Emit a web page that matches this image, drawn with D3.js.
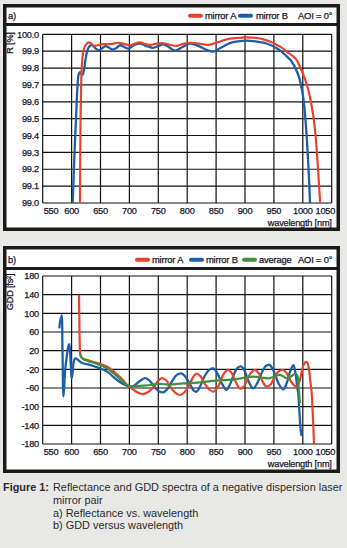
<!DOCTYPE html>
<html><head><meta charset="utf-8">
<script src="https://cdn.jsdelivr.net/npm/d3@7/dist/d3.min.js"></script>
<style>
html,body{margin:0;padding:0;background:#e8e9e7;}
svg{display:block;}
.tick{font-family:"Liberation Sans",Arial,sans-serif;font-size:9.2px;fill:#14142a;stroke:#14142a;stroke-width:0.25px;letter-spacing:-0.2px;}
.leg{font-family:"Liberation Sans",Arial,sans-serif;font-size:9.4px;fill:#14142a;stroke:#14142a;stroke-width:0.25px;letter-spacing:-0.2px;}
.cap{font-family:"Liberation Sans",Arial,sans-serif;font-size:10.9px;fill:#2a2a2a;}
</style></head><body>
<svg id="c" width="347" height="548"></svg>
<script>
// ---------- data ----------
const xTicks = [550,600,650,700,750,800,850,900,950,1000,1050];
const rTicks = [99.0,99.1,99.2,99.3,99.4,99.5,99.6,99.7,99.8,99.9,100.0];
const gddTicks = [-180,-140,-100,-60,-20,20,60,100,140,180];

const rA_wl = [614.5,615.5,616.5,617.5,619,621,624,629,634,638,645,655,668,681,692,701,710,718,727,736,747,759,770,782,793,805,820,837,852,868,885,903,920,932,945,955,964,972,981,989,996,1002,1007,1011,1015,1018,1022,1026,1030];
const rA_val = [99.0,99.5,99.7,99.8,99.87,99.91,99.935,99.952,99.945,99.932,99.935,99.942,99.942,99.95,99.942,99.935,99.945,99.952,99.943,99.937,99.945,99.947,99.938,99.931,99.943,99.95,99.945,99.937,99.952,99.97,99.978,99.982,99.978,99.97,99.955,99.937,99.92,99.897,99.875,99.85,99.8,99.75,99.7,99.65,99.58,99.52,99.4,99.22,99.0];

const rB_wl = [601.9,604.5,607.6,610,612,614,617,619,622,625,628,631,636,642,648,654,659,665,672,678,684,691,698,708,718,730,741,750,759,768,779,792,805,820,832,845,858,874,888,903,918,932,945,955,962,972,978,984,989,994,998,1001,1004,1007,1010,1012.5];
const rB_val = [99.0,99.25,99.5,99.68,99.76,99.775,99.765,99.76,99.8,99.87,99.91,99.93,99.935,99.915,99.905,99.92,99.93,99.92,99.91,99.92,99.935,99.925,99.915,99.935,99.945,99.93,99.92,99.93,99.94,99.925,99.903,99.925,99.945,99.93,99.91,99.897,99.92,99.948,99.958,99.962,99.958,99.95,99.935,99.917,99.9,99.87,99.85,99.82,99.785,99.74,99.68,99.62,99.52,99.38,99.2,99.0];

const gA_wl = [612.8,613.5,614.2,615,617,620,630,643,655,665,675,685,695,706,715,724,733,741,748,756,764,772,780,788,796,803,810,816,823,830,838,845,852,858,864,871,877,884,891,898,904,910,917,924,930,937,944,950,957,966,973,980,989,995,1000,1004,1007,1010,1013,1015.4,1017,1018.5,1019.5];
const gA_val = [140,80,30,12,6,3,-1,-6,-11,-17,-27,-38,-52,-63,-70,-73,-68,-59,-47,-39,-44,-60,-71,-75,-68,-55,-37,-29,-35,-50,-63,-68,-60,-45,-28,-21,-28,-47,-61,-57,-42,-28,-21,-29,-45,-57,-53,-40,-26,-21,-30,-47,-57,-42,-15,-5,-4,-15,-45,-71,-110,-150,-185];

const gB_wl = [578.7,580.5,582.9,584,585,585.7,587,589,591.5,594,596,597.5,599,600,601.5,603.5,606,609,613,620,630,640,655,665,672,680,690,700,707,717,727,735,743,751,759,767,774,782,790,797,805,811,816,823,830,838,845,852,860,868,875,881,887,894,900,907,914,921,928,936,943,950,958,966,972,978,983.6,987,990,992,994,996.4,998];
const gB_val = [68,85,96,40,-40,-78,-60,-20,7,28,34,15,-20,-39,-30,-5,3.6,2,-2,-7,-10,-14,-21,-28,-36,-44,-52,-57,-56,-46,-39,-44,-57,-67,-69,-60,-45,-32,-28.6,-36,-52,-65,-68,-55,-35,-21,-18,-28,-50,-64,-50,-30,-17,-14,-25,-48,-61,-50,-30,-13,-11,-25,-50,-63,-50,-25,-11,-25,-55,-71,-110,-150,-163];

const gAvg_wl = [614.5,617,620,630,643,655,665,675,685,695,705,715,724,740,753,770,793,810,822,836,851,866,880,895,909,920,930,943,952,960,966,972,980,986,990,993,995];
const gAvg_val = [14,6,2,-3,-8,-14,-21,-31,-42,-53,-57,-56,-55,-53,-51,-53,-50,-49,-48,-46,-44,-43,-42,-39,-36,-36,-38,-39,-35,-32,-35,-39,-35,-30,-32,-60,-93];

const colA = "#e6432f", colB = "#1d5fa7", colG = "#3d913d";

// ---------- drawing ----------
const svg = d3.select("#c");
const X0 = 42.7, X1 = 331.7;
const x = d3.scaleLinear().domain([550,1050]).range([X0,X1]);

function panel(o){
  const g = svg.append("g");
  g.append("rect").attr("x",4.75).attr("y",o.top+1.75).attr("width",333.5).attr("height",o.bottom-o.top-3.5)
    .attr("fill","#fff").attr("stroke","#1b1b1b").attr("stroke-width",3.5);
  g.append("line").attr("x1",3).attr("x2",340).attr("y1",o.sep).attr("y2",o.sep)
    .attr("stroke","#1b1b1b").attr("stroke-width",3);
  g.append("text").attr("class","leg").attr("x",8).attr("y",o.sep-5.5).text(o.tag);
  o.legend.forEach(l=>{
    if(l.col) g.append("line").attr("x1",l.x0).attr("x2",l.x0+11).attr("y1",o.sep-8.8).attr("y2",o.sep-8.8)
      .attr("stroke",l.col).attr("stroke-width",4).attr("stroke-linecap","round");
    g.append("text").attr("class","leg").attr("x",l.tx).attr("y",o.sep-5.5).text(l.label);
  });
  const y = d3.scaleLinear().domain(o.ydom).range([o.y0,o.y1]);
  g.selectAll(".vg").data(xTicks).enter().append("line")
    .attr("x1",d=>x(d)).attr("x2",d=>x(d)).attr("y1",o.y1).attr("y2",o.y0)
    .attr("stroke","#111").attr("stroke-width",1.2);
  g.selectAll(".hg").data(o.yticks).enter().append("line")
    .attr("x1",X0).attr("x2",X1).attr("y1",d=>y(d)).attr("y2",d=>y(d))
    .attr("stroke","#111").attr("stroke-width",1.2);
  g.selectAll(".xl").data(xTicks).enter().append("text").attr("class","tick")
    .attr("x",(d,i)=> i===0 ? x(d)+1 : (i===xTicks.length-1 ? x(d)+3.5 : x(d)))
    .attr("text-anchor",(d,i)=> i===0 ? "start" : (i===xTicks.length-1 ? "end" : "middle"))
    .attr("y",o.y0+10.5).text(d=>d);
  g.selectAll(".yl").data(o.yticks).enter().append("text").attr("class","tick")
    .attr("x",39).attr("text-anchor","end").attr("y",d=>y(d)+3.2).text(o.fmt);
  g.append("text").attr("class","tick").attr("x",X1).attr("y",o.y0+23).attr("text-anchor","end").text("wavelength [nm]");
  g.append("text").attr("class","tick").attr("text-anchor","middle")
    .attr("transform",`translate(12.5,${o.ylabY}) rotate(-90)`).text(o.ylab);
  const cid = "clip"+o.tag.replace(")","");
  svg.append("clipPath").attr("id",cid).append("rect").attr("x",X0).attr("y",o.y1).attr("width",X1-X0).attr("height",o.y0-o.y1);
  const line = d3.line().x(d=>x(d[0])).y(d=>y(d[1])).curve(d3.curveCatmullRom.alpha(0.5));
  o.series.forEach(s=>{
    g.append("path").attr("d",line(d3.zip(s.wl,s.val))).attr("fill","none")
      .attr("stroke",s.col).attr("stroke-width",s.w).attr("stroke-linejoin","round")
      .attr("clip-path",`url(#${cid})`);
  });
}

panel({
  tag:"a)", top:4, bottom:231, sep:24.5, y0:203, y1:34.3, ydom:[99.0,100.0], yticks:rTicks,
  fmt:d=>d.toFixed(1), ylab:"R [%]", ylabY:43,
  legend:[{col:colA,x0:190,tx:205,label:"mirror A"},{col:colB,x0:240,tx:256,label:"mirror B"},{tx:298,label:"AOI = 0°"}],
  series:[{wl:rB_wl,val:rB_val,col:colB,w:2.3},{wl:rA_wl,val:rA_val,col:colA,w:2.2}]
});
panel({
  tag:"b)", top:246, bottom:473, sep:268.5, y0:444, y1:276, ydom:[-180,180], yticks:gddTicks,
  fmt:d=>d, ylab:"GDD [fs²]", ylabY:292,
  legend:[{col:colA,x0:137,tx:152,label:"mirror A"},{col:colB,x0:191,tx:206,label:"mirror B"},{col:colG,x0:244,tx:259,label:"average"},{tx:298,label:"AOI = 0°"}],
  series:[{wl:gB_wl,val:gB_val,col:colB,w:2.3},{wl:gA_wl,val:gA_val,col:colA,w:2.2},{wl:gAvg_wl,val:gAvg_val,col:colG,w:2.2}]
});

const cap = svg.append("g");
cap.append("text").attr("class","cap").attr("x",3).attr("y",491).attr("font-weight","bold").attr("fill","#1f2940").text("Figure 1:");
const capLines = ["Reflectance and GDD spectra of a negative dispersion laser","mirror pair","a) Reflectance vs. wavelength","b) GDD versus wavelength"];
cap.selectAll(".cl").data(capLines).enter().append("text").attr("class","cap")
  .attr("x",53).attr("y",(d,i)=>491+i*12.8).text(d=>d);
</script>
</body></html>
